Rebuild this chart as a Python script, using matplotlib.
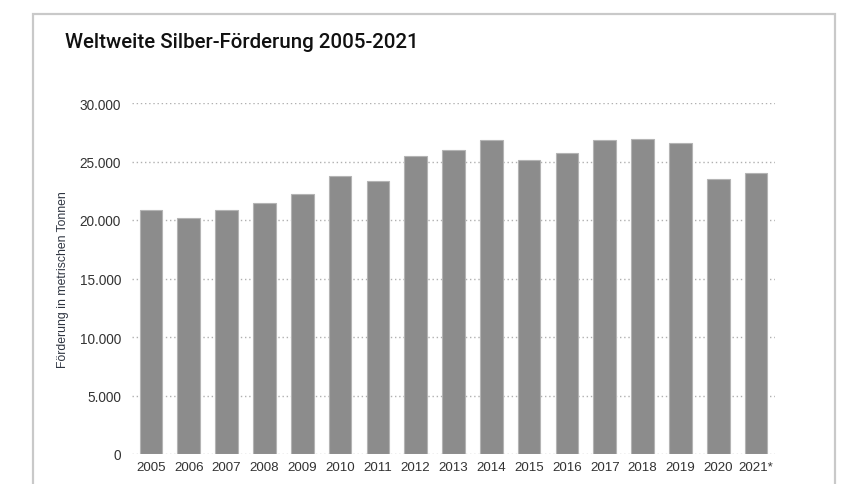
import matplotlib
matplotlib.use('Agg')
import matplotlib.pyplot as plt
from matplotlib.patches import Rectangle

# Data (metric tonnes)
years = ['2005', '2006', '2007', '2008', '2009', '2010', '2011', '2012', '2013',
         '2014', '2015', '2016', '2017', '2018', '2019', '2020', '2021*']
production = [20850, 20150, 20850, 21450, 22200, 23800, 23300, 25500, 26000,
              26850, 25100, 25700, 26850, 26900, 26550, 23500, 24000]
yticks = [0, 5000, 10000, 15000, 20000, 25000, 30000]
ytick_labels = ['0', '5.000', '10.000', '15.000', '20.000', '25.000', '30.000']

title = 'Weltweite Silber-Förderung 2005-2021'
ylabel = 'Förderung in metrischen Tonnen'

plt.rcParams['font.family'] = ['Liberation Sans', 'DejaVu Sans']

fig = plt.figure(figsize=(8.48, 4.85), dpi=100, facecolor='white')
ax = fig.add_axes([132 / 848, 1 - 455 / 485, 643 / 848, 351 / 485])

# Outer frame around the chart
frame = Rectangle((33 / 848, -0.1), 802 / 848, 1.1 - 15 / 485, transform=fig.transFigure,
                  fill=False, edgecolor='#c9c9c9', linewidth=1.6, clip_on=False)
fig.patches.append(frame)

x = range(len(years))
ax.bar(x, production, width=0.6, color='#8c8c8c', edgecolor='#b4b4b4',
       linewidth=0.8, zorder=3)

ax.set_xlim(-0.5, len(years) - 0.5)
ax.set_ylim(0, 30000)
ax.set_yticks(yticks)
ax.set_yticklabels(ytick_labels)
ax.set_xticks(list(x))
ax.set_xticklabels(years)

ax.yaxis.grid(True, linestyle=(0, (1, 2)), color='#b0b0b0', linewidth=1.0, zorder=0)
ax.set_axisbelow(True)
for s in ax.spines.values():
    s.set_visible(False)

ax.tick_params(axis='y', length=0, pad=8, labelsize=9.8, labelcolor='#333333')
ax.tick_params(axis='x', length=0, pad=5, labelsize=9.6, labelcolor='#333333')

ax.set_ylabel(ylabel, fontsize=8.8, color='#2e3440')
ax.yaxis.set_label_coords(-0.098, 0.5)

fig.text(65 / 848, 1 - 43 / 485, title, fontsize=14.8, fontweight='medium',
         family=['Roboto', 'DejaVu Sans'], color='#111111', va='center', ha='left')

plt.savefig('out.png', dpi=100, facecolor='white')
